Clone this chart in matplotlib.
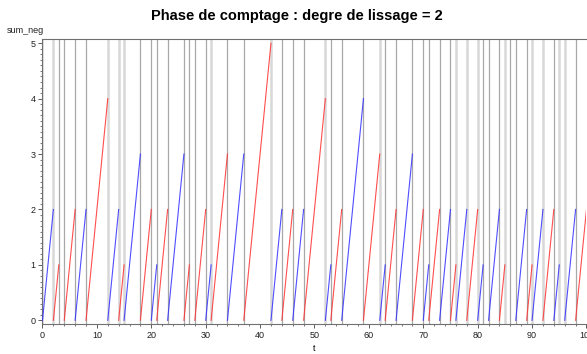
import matplotlib
matplotlib.use("Agg")
import matplotlib.pyplot as plt
from matplotlib.ticker import MultipleLocator

plt.rcParams['font.family'] = ['Liberation Sans', 'DejaVu Sans']

# sawtooth segments of sum_neg: start time, end time, peak value, colour
seg_start = [0, 2, 4, 6, 8, 12, 14, 15, 18, 20, 21, 23, 26, 28, 30, 31, 34, 37, 42, 44,
             46, 48, 52, 53, 55, 59, 62, 63, 65, 68, 70, 71, 73, 75, 76, 78, 80, 82, 84, 87,
             89, 90, 92, 94, 96, 98]
seg_end = [2, 3, 6, 8, 12, 14, 15, 18, 20, 21, 23, 26, 27, 30, 31, 34, 37, 42, 44, 46,
           48, 52, 53, 55, 59, 62, 63, 65, 68, 70, 71, 73, 75, 76, 78, 80, 81, 84, 85, 89,
           90, 92, 94, 95, 98, 100]
seg_peak = [2, 1, 2, 2, 4, 2, 1, 3, 2, 1, 2, 3, 1, 2, 1, 3, 3, 5, 2, 2,
            2, 4, 1, 2, 4, 3, 1, 2, 3, 2, 1, 2, 2, 1, 2, 2, 1, 2, 1, 2,
            1, 2, 2, 1, 2, 2]
seg_color = ['b', 'r', 'r', 'b', 'r', 'b', 'r', 'b', 'r', 'b', 'r', 'b', 'r', 'r', 'b', 'r', 'b', 'r', 'b', 'r',
             'b', 'r', 'b', 'r', 'b', 'r', 'b', 'r', 'b', 'r', 'b', 'r', 'b', 'r', 'b', 'r', 'b', 'b', 'r', 'b',
             'r', 'b', 'r', 'b', 'b', 'r']

# event times (vertical lines)
events_dark = [3, 4, 6, 8, 18, 20, 21, 23, 26, 27, 28, 30, 34, 37, 44, 46, 48, 53, 55, 59,
               63, 65, 68, 70, 71, 73, 75, 81, 82, 84, 86, 87, 89, 94, 98]
events_light = [0, 2, 12, 14, 15, 31, 42, 52, 62, 76, 78, 80, 85, 90, 92, 95, 96]

colors = {'r': '#ff3030', 'b': '#3030ff'}

fig = plt.figure(figsize=(5.87, 3.54), dpi=100)
ax = fig.add_axes([0.0724, 0.0847, 0.9267, 0.8045])

for t in events_light:
    ax.axvline(t, color='#d8d8d8', lw=1.8, zorder=1)
for t in events_dark:
    ax.axvline(t, color='#a8a8a8', lw=0.9, zorder=1)

for s, e, p, c in zip(seg_start, seg_end, seg_peak, seg_color):
    ax.plot([s, e], [0, p], color=colors[c], lw=0.8, alpha=0.85, zorder=3)

ax.set_xlim(0, 100)
ax.set_ylim(-0.067, 5.072)

ax.xaxis.set_major_locator(MultipleLocator(10))
ax.xaxis.set_minor_locator(MultipleLocator(2))
ax.yaxis.set_major_locator(MultipleLocator(1))
ax.yaxis.set_minor_locator(MultipleLocator(0.1))
ax.tick_params(axis='both', which='major', labelsize=6.5, length=3, width=0.6,
               colors='#404040', labelcolor='#202020', pad=2)
ax.tick_params(axis='both', which='minor', length=1.5, width=0.5, colors='#404040')

for side in ['top', 'bottom', 'left']:
    ax.spines[side].set_color('#707070')
    ax.spines[side].set_linewidth(0.8)
ax.spines['right'].set_visible(False)

ax.set_xlabel('t', fontsize=6.5, labelpad=3)
fig.text(0.012, 0.9, 'sum_neg', fontsize=6.5, color='#202020', va='bottom')
fig.suptitle('Phase de comptage : degre de lissage = 2', x=0.505, y=0.975,
             fontsize=10.5, fontweight='bold')

plt.savefig('out.png', dpi=100)
